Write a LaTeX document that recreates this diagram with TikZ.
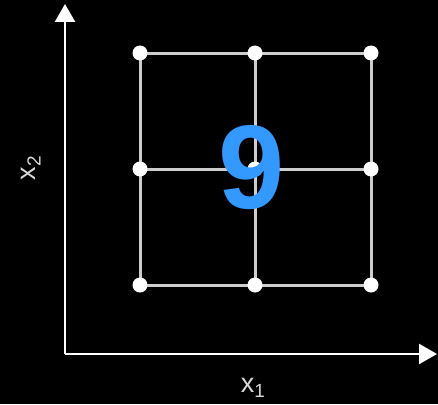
\documentclass[tikz,border=0pt]{standalone}
\usepackage{fontspec}
\setmainfont{Liberation Sans}
\usetikzlibrary{arrows.meta}
\definecolor{ninecol}{RGB}{51,153,255}
\definecolor{gridcol}{RGB}{205,205,205}
\begin{document}
\begin{tikzpicture}[x=1pt,y=-1pt,
  dotnode/.style={circle,fill=white,inner sep=0pt,minimum size=15pt},
  gridline/.style={draw=gridcol,line width=3pt},
  axisline/.style={draw=white,line width=2.4pt,-{Triangle[width=20pt,length=18pt]}},
  axlabel/.style={text=white!85!black,font=\fontsize{27}{28}\selectfont,inner sep=0pt}]
\fill[black] (0,0) rectangle (438,404);
\useasboundingbox (0,0) rectangle (438,404);
% axes
\coordinate (o) at (65,354);
\coordinate (ytip) at (65,4);
\coordinate (xtip) at (437,354);
\draw[axisline] (o) -- (ytip);
\draw[axisline] (o) -- (xtip);
% grid
\foreach \i/\x in {1/140,2/255,3/371}{
  \foreach \j/\y in {1/53,2/169,3/285}{
    \coordinate (g\i\j) at (\x,\y);
  }
}
\foreach \j in {1,2,3}{ \draw[gridline] (g1\j) -- (g2\j) -- (g3\j); }
\foreach \i in {1,2,3}{ \draw[gridline] (g\i1) -- (g\i2) -- (g\i3); }
\foreach \i in {1,2,3}{ \foreach \j in {1,2,3}{ \node[dotnode] (d\i\j) at (g\i\j) {}; } }
% big nine
\node[text=ninecol,font=\bfseries\fontsize{119}{119}\selectfont,inner sep=0pt] (nine) at (252,167.5) {9};
% labels
\node[axlabel] (xone) at (253,388) {x\raisebox{-0.35ex}{\fontsize{19}{19}\selectfont 1}};
\node[axlabel,rotate=90] (xtwo) at (31,168) {x\raisebox{-0.35ex}{\fontsize{19}{19}\selectfont 2}};
\end{tikzpicture}
\end{document}
